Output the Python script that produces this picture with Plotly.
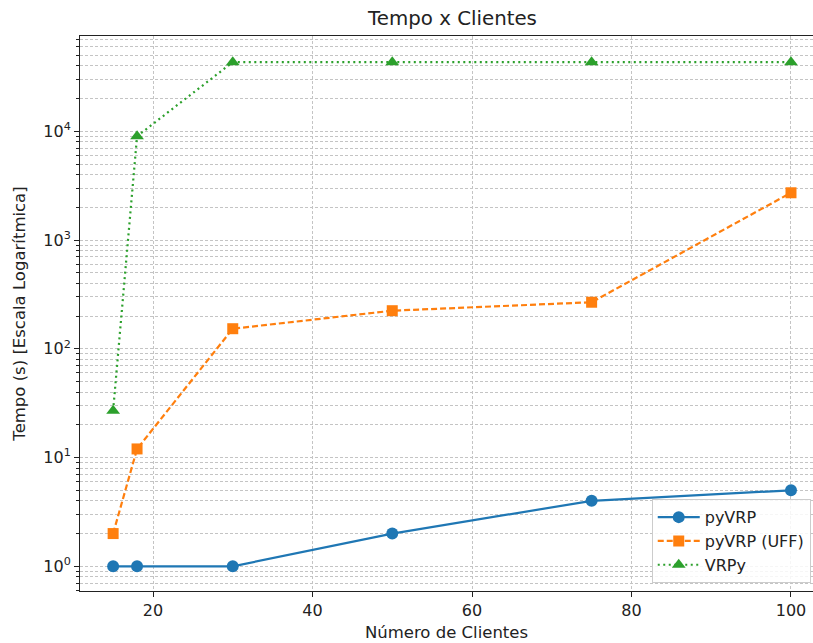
import plotly.graph_objects as go

# Número de clientes por instância
clientes = [15, 18, 30, 50, 75, 100]

# Tempo de execução (s) de cada solver
tempo_pyvrp = [1, 1, 1, 2, 4, 5]
tempo_pyvrp_uff = [2, 12, 153, 224, 268, 2720]
tempo_vrpy = [27, 9000, 43200, 43200, 43200, 43200]

x_ticks = [20, 40, 60, 80, 100]
y_decades = [0, 1, 2, 3, 4]

FONT = "DejaVu Sans"
TXT = "#222222"
BLUE, ORANGE, GREEN = "#1f77b4", "#ff7f0e", "#2ca02c"

fig = go.Figure()
fig.add_trace(go.Scatter(
    x=clientes, y=tempo_pyvrp, name="pyVRP", mode="lines+markers",
    line=dict(color=BLUE, width=2.2),
    marker=dict(symbol="circle", size=12, color=BLUE),
))
fig.add_trace(go.Scatter(
    x=clientes, y=tempo_pyvrp_uff, name="pyVRP (UFF)", mode="lines+markers",
    line=dict(color=ORANGE, width=2.2, dash="6px,3px"),
    marker=dict(symbol="square", size=11, color=ORANGE),
))
fig.add_trace(go.Scatter(
    x=clientes, y=tempo_vrpy, name="VRPy", mode="lines+markers",
    line=dict(color=GREEN, width=2.2, dash="2px,3.5px"),
    marker=dict(symbol="triangle-up", size=12, color=GREEN),
))

minor_vals = [m * 10.0 ** d for d in range(-1, 5) for m in range(2, 10)]

grid = dict(gridcolor="#c4c4c4", gridwidth=0.7, griddash="3px,2px")

fig.update_layout(
    width=813, height=643,
    margin=dict(l=80, r=0, t=36, b=52),
    paper_bgcolor="white", plot_bgcolor="white",
    font=dict(family=FONT, size=16, color=TXT),
    title=dict(text="Tempo x Clientes", x=(80 + 825) / 2 / 813, xanchor="center",
               y=1 - 18 / 643, yanchor="middle",
               font=dict(family=FONT, size=19.8, color=TXT)),
    showlegend=True,
    legend=dict(x=0.78, xanchor="left", y=0.014, yanchor="bottom",
                bgcolor="rgba(255,255,255,0.85)", bordercolor="#cccccc", borderwidth=1,
                font=dict(family=FONT, size=16, color=TXT),
                itemwidth=42, tracegroupgap=0),
)

fig.update_xaxes(
    title=dict(text="Número de Clientes", font=dict(family=FONT, size=16.5), standoff=7),
    range=[10.846, 102.76],
    tickmode="array", tickvals=x_ticks, ticktext=[str(v) for v in x_ticks],
    tickfont=dict(size=16),
    ticks="outside", ticklen=5, tickwidth=1, tickcolor=TXT,
    showline=True, linecolor=TXT, linewidth=1.1, mirror=True,
    showgrid=True, zeroline=False, **grid,
)

fig.update_yaxes(
    type="log",
    title=dict(text="Tempo (s) [Escala Logarítmica]", font=dict(family=FONT, size=16.5), standoff=13),
    range=[-0.227, 4.876],
    tickmode="array", tickvals=[10.0 ** d for d in y_decades],
    ticktext=[f"10<sup>{d}</sup>" for d in y_decades],
    tickfont=dict(size=16),
    ticks="outside", ticklen=5, tickwidth=1, tickcolor=TXT,
    showline=True, linecolor=TXT, linewidth=1.1, mirror=False,
    showgrid=True, zeroline=False, **grid,
    minor=dict(tickmode="array", tickvals=minor_vals, ticks="outside", ticklen=3,
               tickwidth=0.8, tickcolor=TXT, showgrid=True,
               gridcolor="#c4c4c4", gridwidth=0.6, griddash="3px,2px"),
)

fig.write_html("out.html")
